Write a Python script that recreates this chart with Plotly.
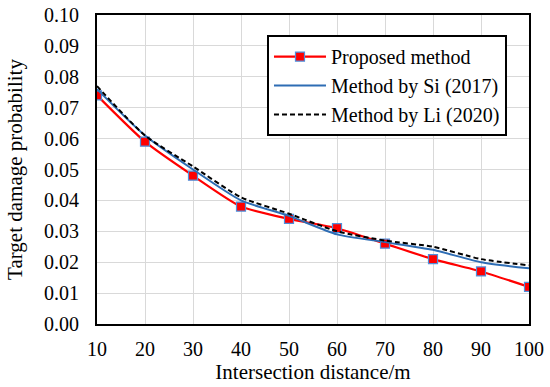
import plotly.graph_objects as go

distance = [10, 20, 30, 40, 50, 60, 70, 80, 90, 100]
proposed = [0.074, 0.059, 0.048, 0.038, 0.034, 0.031, 0.026, 0.021, 0.017, 0.012]
si_2017 = [0.076, 0.061, 0.050, 0.040, 0.035, 0.029, 0.0265, 0.024, 0.020, 0.018]
li_2020 = [0.077, 0.061, 0.051, 0.041, 0.0357, 0.030, 0.027, 0.025, 0.021, 0.019]

font = "Liberation Serif, Times New Roman, serif"

fig = go.Figure()
fig.add_trace(go.Scatter(
    x=distance, y=proposed, name="Proposed method", mode="lines+markers",
    line=dict(color="#ff0000", width=2.2, shape="spline", smoothing=0.6),
    marker=dict(symbol="square", size=9, color="#ff0000",
                line=dict(color="#4f8fdc", width=1.2)),
))
fig.add_trace(go.Scatter(
    x=distance, y=si_2017, name="Method by Si (2017)", mode="lines",
    line=dict(color="#2e6db4", width=2, shape="spline", smoothing=0.6),
))
fig.add_trace(go.Scatter(
    x=distance, y=li_2020, name="Method by Li (2020)", mode="lines",
    line=dict(color="#000000", width=2, dash="5px,3px", shape="spline", smoothing=0.6),
))

fig.update_layout(
    width=550, height=387,
    margin=dict(l=97, r=21, t=15, b=63, autoexpand=False),
    paper_bgcolor="white", plot_bgcolor="white",
    font=dict(family=font, size=20, color="black"),
    legend=dict(
        x=0.3935, y=0.935, xanchor="left", yanchor="top",
        bgcolor="white", bordercolor="black", borderwidth=2,
        font=dict(family=font, size=20),
        itemwidth=52, tracegroupgap=0,
    ),
    xaxis=dict(
        range=[10, 100], tickmode="array", tickvals=distance,
        showgrid=True, gridcolor="#d9d9d9", gridwidth=1,
        showline=True, linecolor="black", linewidth=2, mirror=True,
        ticks="outside", ticklen=6, tickcolor="rgba(0,0,0,0)",
        title=dict(text="Intersection distance/m", font=dict(size=21), standoff=5),
        zeroline=False, automargin=False,
    ),
    yaxis=dict(
        range=[0, 0.1], dtick=0.01, tickformat=".2f",
        showgrid=True, gridcolor="#d9d9d9", gridwidth=1,
        showline=True, linecolor="black", linewidth=2, mirror=True,
        ticks="outside", ticklen=12, tickcolor="rgba(0,0,0,0)",
        title=dict(text="Target damage probability", font=dict(size=21), standoff=16),
        zeroline=False, automargin=False,
    ),
)

fig.write_html(
    "out.html",
    config={"displayModeBar": False},
    post_script="document.body.style.margin='0';document.body.style.overflow='hidden';",
)
